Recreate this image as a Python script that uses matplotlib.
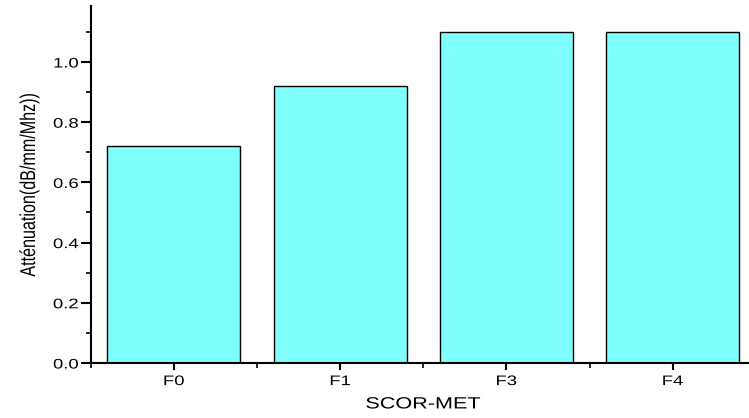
import matplotlib
matplotlib.use("Agg")
import matplotlib.pyplot as plt
from matplotlib.ticker import MultipleLocator, FormatStrFormatter
from matplotlib.patheffects import AbstractPathEffect
from matplotlib.transforms import Affine2D

categories = ["F0", "F1", "F3", "F4"]
attenuation = [0.72, 0.92, 1.10, 1.10]

plt.rcParams['font.family'] = ['Liberation Sans', 'DejaVu Sans']


# the original export is stretched sideways, so text is widened on screen
class Widen(AbstractPathEffect):
    def __init__(self, sx=1.33):
        super().__init__()
        self.sx = sx

    def draw_path(self, renderer, gc, tpath, affine, rgbFace=None):
        ext = tpath.get_extents(affine)
        cx, cy = (ext.x0 + ext.x1) / 2, (ext.y0 + ext.y1) / 2
        stretch = Affine2D().translate(-cx, -cy).scale(self.sx, 1).translate(cx, cy)
        renderer.draw_path(gc, tpath, affine + stretch, rgbFace)


fig = plt.figure(figsize=(7.49, 4.18), dpi=100)
ax = fig.add_axes([0.1211, 0.1316, 0.888, 0.854])

x = range(len(categories))
ax.bar(x, attenuation, width=0.8, color='#80FFFF', edgecolor='black', linewidth=1.0, zorder=2)

ax.set_xlim(-0.5, 3.5)
ax.set_ylim(0, 1.186)
ax.set_xticks(list(x))
ax.set_xticklabels(categories)
ax.set_xticks([-0.5, 0.5, 1.5, 2.5, 3.5], minor=True)
ax.yaxis.set_major_locator(MultipleLocator(0.2))
ax.yaxis.set_minor_locator(MultipleLocator(0.1))
ax.yaxis.set_major_formatter(FormatStrFormatter('%.1f'))

for s in ['top', 'right']:
    ax.spines[s].set_visible(False)
for s in ['left', 'bottom']:
    ax.spines[s].set_linewidth(1.5)

ax.tick_params(axis='both', which='major', direction='out', length=7, width=1.5, labelsize=10, pad=4)
ax.tick_params(axis='x', which='major', length=5, pad=3)
ax.tick_params(axis='both', which='minor', direction='out', length=3.5, width=1.2)

ax.set_xlabel('SCOR-MET', fontsize=11.7, labelpad=6)
ax.set_ylabel('Atténuation(dB/mm/Mhz))', fontsize=11.6, labelpad=14)

widen = [Widen(1.33)]
for t in ax.get_xticklabels() + ax.get_yticklabels():
    t.set_path_effects(widen)
ax.xaxis.label.set_path_effects(widen)
ax.yaxis.label.set_path_effects(widen)

fig.savefig('out.png', dpi=100)
